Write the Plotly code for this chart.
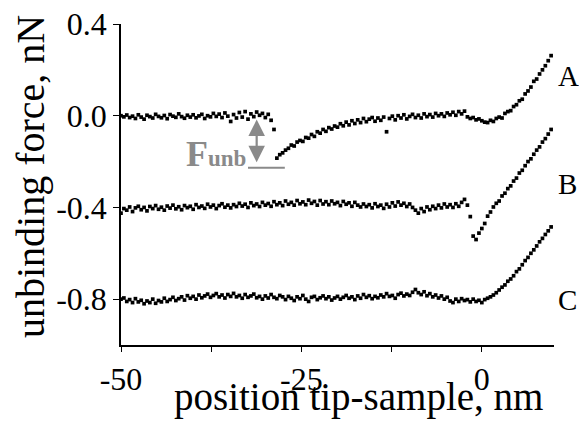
import plotly.graph_objects as go

# ---------------- data ----------------
x_nm = [
    -50.0, -49.6, -49.2, -48.8, -48.4, -48.0, -47.6, -47.2, -46.8, -46.4,
    -46.0, -45.6, -45.2, -44.8, -44.4, -44.0, -43.6, -43.2, -42.8, -42.4,
    -42.0, -41.6, -41.2, -40.8, -40.4, -40.0, -39.6, -39.2, -38.8, -38.4,
    -38.0, -37.6, -37.2, -36.8, -36.4, -36.0, -35.6, -35.2, -34.8, -34.4,
    -34.0, -33.6, -33.2, -32.8, -32.4, -32.0, -31.6, -31.2, -30.8, -30.4,
    -30.0, -29.6, -29.2, -28.8, -28.4, -28.0, -27.6, -27.2, -26.8, -26.4,
    -26.0, -25.6, -25.2, -24.8, -24.4, -24.0, -23.6, -23.2, -22.8, -22.4,
    -22.0, -21.6, -21.2, -20.8, -20.4, -20.0, -19.6, -19.2, -18.8, -18.4,
    -18.0, -17.6, -17.2, -16.8, -16.4, -16.0, -15.6, -15.2, -14.8, -14.4,
    -14.0, -13.6, -13.2, -12.8, -12.4, -12.0, -11.6, -11.2, -10.8, -10.4,
    -10.0, -9.6, -9.2, -8.8, -8.4, -8.0, -7.6, -7.2, -6.8, -6.4,
    -6.0, -5.6, -5.2, -4.8, -4.4, -4.0, -3.6, -3.2, -2.8, -2.4,
    -2.0, -1.6, -1.2, -0.8, -0.4, 0.0, 0.4, 0.8, 1.2, 1.6,
    2.0, 2.4, 2.8, 3.2, 3.6, 4.0, 4.4, 4.8, 5.2, 5.6,
    6.0, 6.4, 6.8, 7.2, 7.6, 8.0, 8.4, 8.8, 9.2, 9.6,
]

force_A = [
    0.000, -0.005, 0.003, -0.008, -0.002, -0.012, 0.004, -0.006, -0.015, 0.002,
    -0.004, -0.010, 0.006, -0.003, -0.009, 0.001, -0.013, 0.005, -0.002, -0.007,
    0.008, -0.004, -0.011, 0.002, -0.006, 0.004, -0.009, -0.001, 0.006, -0.012,
    0.000, -0.005, 0.010, -0.003, 0.007, -0.008, 0.012, -0.002, -0.025, 0.005,
    -0.010, 0.014, -0.006, 0.018, -0.015, 0.008, -0.004, 0.016, 0.002, 0.010,
    -0.008, 0.006, -0.020, -0.060, -0.185, -0.170, -0.162, -0.150, -0.142, -0.128,
    -0.132, -0.115, -0.108, -0.112, -0.095, -0.098, -0.082, -0.090, -0.070, -0.076,
    -0.060, -0.068, -0.052, -0.058, -0.045, -0.050, -0.035, -0.044, -0.028, -0.040,
    -0.022, -0.034, -0.018, -0.030, -0.012, -0.026, -0.015, -0.008, -0.024, -0.010,
    -0.020, -0.006, -0.070, -0.012, -0.002, -0.018, 0.000, -0.010, 0.004, -0.014,
    -0.003, 0.006, -0.008, 0.002, -0.010, 0.008, -0.004, 0.005, -0.006, 0.010,
    0.000, 0.008, -0.003, 0.012, 0.004, 0.015, 0.002, 0.018, 0.008, 0.020,
    -0.005, -0.012, -0.008, -0.018, -0.014, -0.022, -0.028, -0.030, -0.020, -0.025,
    -0.012, -0.006, -0.010, 0.010, 0.018, 0.022, 0.040, 0.048, 0.065, 0.072,
    0.095, 0.108, 0.125, 0.150, 0.160, 0.182, 0.200, 0.218, 0.240, 0.262,
]

force_B = [
    -0.425, -0.405, -0.412, -0.398, -0.418, -0.402, -0.395, -0.410, -0.400, -0.415,
    -0.396, -0.405, -0.392, -0.408, -0.399, -0.412, -0.394, -0.403, -0.390, -0.406,
    -0.397, -0.410, -0.392, -0.401, -0.395, -0.408, -0.388, -0.400, -0.394, -0.404,
    -0.386, -0.398, -0.390, -0.405, -0.392, -0.384, -0.399, -0.390, -0.402, -0.388,
    -0.396, -0.382, -0.394, -0.386, -0.400, -0.380, -0.392, -0.385, -0.396, -0.378,
    -0.390, -0.383, -0.395, -0.375, -0.388, -0.380, -0.392, -0.372, -0.386, -0.378,
    -0.390, -0.370, -0.384, -0.376, -0.388, -0.368, -0.382, -0.374, -0.390, -0.370,
    -0.385, -0.375, -0.388, -0.372, -0.384, -0.378, -0.392, -0.374, -0.386, -0.380,
    -0.395, -0.378, -0.390, -0.398, -0.385, -0.396, -0.388, -0.402, -0.384, -0.396,
    -0.390, -0.404, -0.386, -0.398, -0.380, -0.394, -0.376, -0.390, -0.382, -0.396,
    -0.385, -0.400, -0.412, -0.425, -0.405, -0.418, -0.398, -0.410, -0.395, -0.405,
    -0.390, -0.402, -0.385, -0.398, -0.388, -0.400, -0.384, -0.395, -0.378, -0.365,
    -0.390, -0.440, -0.525, -0.540, -0.512, -0.492, -0.470, -0.438, -0.420, -0.398,
    -0.382, -0.372, -0.350, -0.338, -0.318, -0.306, -0.285, -0.272, -0.250, -0.238,
    -0.218, -0.200, -0.188, -0.168, -0.150, -0.136, -0.115, -0.100, -0.080, -0.060,
]

force_C = [
    -0.800, -0.795, -0.810, -0.802, -0.815, -0.798, -0.812, -0.805, -0.820, -0.808,
    -0.815, -0.800, -0.818, -0.806, -0.812, -0.796, -0.810, -0.802, -0.792, -0.806,
    -0.798, -0.790, -0.804, -0.785, -0.796, -0.788, -0.800, -0.782, -0.794, -0.786,
    -0.778, -0.792, -0.784, -0.776, -0.790, -0.782, -0.795, -0.780, -0.788, -0.775,
    -0.790, -0.784, -0.796, -0.780, -0.792, -0.786, -0.778, -0.794, -0.788, -0.800,
    -0.786, -0.795, -0.780, -0.792, -0.798, -0.784, -0.790, -0.802, -0.788, -0.796,
    -0.806, -0.790, -0.798, -0.784, -0.800, -0.810, -0.792, -0.788, -0.802, -0.794,
    -0.786, -0.798, -0.790, -0.804, -0.795, -0.788, -0.800, -0.792, -0.784, -0.796,
    -0.790, -0.802, -0.786, -0.796, -0.780, -0.792, -0.785, -0.798, -0.788, -0.794,
    -0.782, -0.790, -0.776, -0.788, -0.784, -0.796, -0.780, -0.774, -0.786, -0.778,
    -0.784, -0.770, -0.758, -0.772, -0.780, -0.768, -0.785, -0.776, -0.790, -0.782,
    -0.795, -0.786, -0.800, -0.792, -0.808, -0.815, -0.800, -0.810, -0.798, -0.806,
    -0.802, -0.812, -0.800, -0.810, -0.805, -0.815, -0.802, -0.796, -0.790, -0.782,
    -0.772, -0.760, -0.748, -0.738, -0.722, -0.712, -0.698, -0.680, -0.668, -0.650,
    -0.632, -0.618, -0.600, -0.585, -0.568, -0.550, -0.535, -0.518, -0.502, -0.485,
]

series_names = ["A", "B", "C"]
x_tick_vals = [-50, -25, 0]
x_tick_text = ["-50", "-25", "0"]
x_minor_vals = [-37.5, -12.5]
y_tick_vals = [0.4, 0.0, -0.4, -0.8]
y_tick_text = ["0.4", "0.0", "-0.4", "-0.8"]

# unbinding-force marker (arrow + baseline bar), data coordinates
funb_arrow_x = -31.2
funb_arrow_top = -0.017
funb_arrow_bottom = -0.210
funb_bar_x = [-32.4, -27.3]
funb_bar_y = -0.227

# ---------------- figure ----------------
W, H = 579, 422
ML, MR, MT, MB = 121, 25, 24, 77
PW, PH = W - ML - MR, H - MT - MB

def px_to_paper_x(px):
    return (px - ML) / PW

def px_to_paper_y(py):
    return (H - MB - py) / PH

SERIF = "Liberation Serif, Times New Roman, serif"
GRAY = "#8a8a8a"

fig = go.Figure()
for ys in (force_A, force_B, force_C):
    fig.add_trace(go.Scatter(
        x=x_nm, y=ys, mode="markers",
        marker=dict(symbol="square", size=3.7, color="black", line=dict(width=0)),
        showlegend=False, cliponaxis=False, hoverinfo="skip",
    ))

fig.update_layout(
    width=W, height=H,
    margin=dict(l=ML, r=MR, t=MT, b=MB, pad=0, autoexpand=False),
    paper_bgcolor="white", plot_bgcolor="white",
    font=dict(family=SERIF, color="black"),
    showlegend=False,
)

fig.update_xaxes(
    range=[-50, 10], showgrid=False, zeroline=False, automargin=False,
    showline=True, linecolor="black", linewidth=1.6,
    ticks="outside", ticklen=5, tickwidth=1.4, tickcolor="black",
    tickvals=x_tick_vals, ticktext=x_tick_text,
    tickfont=dict(family=SERIF, size=32, color="black"),
    minor=dict(tickvals=x_minor_vals, ticks="outside", ticklen=5, tickwidth=1.4, tickcolor="black"),
)
fig.update_yaxes(
    range=[-1.0, 0.4], showgrid=False, zeroline=False, automargin=False,
    showline=True, linecolor="black", linewidth=1.6,
    ticks="outside", ticklen=6, tickwidth=1.4, tickcolor="black",
    tickvals=y_tick_vals, ticktext=y_tick_text,
    tickfont=dict(family=SERIF, size=32, color="black"),
)

annotations = [
    # axis titles
    dict(text="position tip-sample, nm", xref="paper", yref="paper",
         x=px_to_paper_x(358), y=px_to_paper_y(397), xanchor="center", yanchor="middle",
         showarrow=False, font=dict(family=SERIF, size=39, color="black")),
    dict(text="unbinding force, nN", xref="paper", yref="paper", textangle=-90,
         x=px_to_paper_x(30), y=px_to_paper_y(177), xanchor="center", yanchor="middle",
         showarrow=False, font=dict(family=SERIF, size=40, color="black")),
    # F_unb label
    dict(text="<b>F</b><span style='font-size:23px'><b>unb</b></span>",
         xref="paper", yref="paper",
         x=px_to_paper_x(184), y=px_to_paper_y(154), xanchor="left", yanchor="middle",
         showarrow=False, font=dict(family=SERIF, size=36, color=GRAY)),
    # double-headed arrow
    dict(text="", x=funb_arrow_x, y=funb_arrow_top, ax=funb_arrow_x, ay=funb_arrow_bottom,
         xref="x", yref="y", axref="x", ayref="y", showarrow=True,
         arrowhead=2, startarrowhead=2, arrowside="end+start",
         arrowsize=1.5, startarrowsize=1.5, arrowwidth=2.2, arrowcolor=GRAY,
         standoff=0, startstandoff=0),
]
label_centres = [76.5, 183.5, 300]
for name, cy in zip(series_names, label_centres):
    annotations.append(dict(text=name, xref="paper", yref="paper",
                            x=px_to_paper_x(556), y=px_to_paper_y(cy),
                            xanchor="left", yanchor="middle", showarrow=False,
                            font=dict(family=SERIF, size=29, color="black")))
fig.update_layout(annotations=annotations)

fig.add_shape(type="line", xref="x", yref="y",
              x0=funb_bar_x[0], x1=funb_bar_x[1], y0=funb_bar_y, y1=funb_bar_y,
              line=dict(color=GRAY, width=2.2))

fig.write_html(
    "out.html",
    config={"displayModeBar": False},
    post_script="document.body.style.margin='0';document.body.style.padding='0';"
                "document.documentElement.style.overflow='hidden';",
)
